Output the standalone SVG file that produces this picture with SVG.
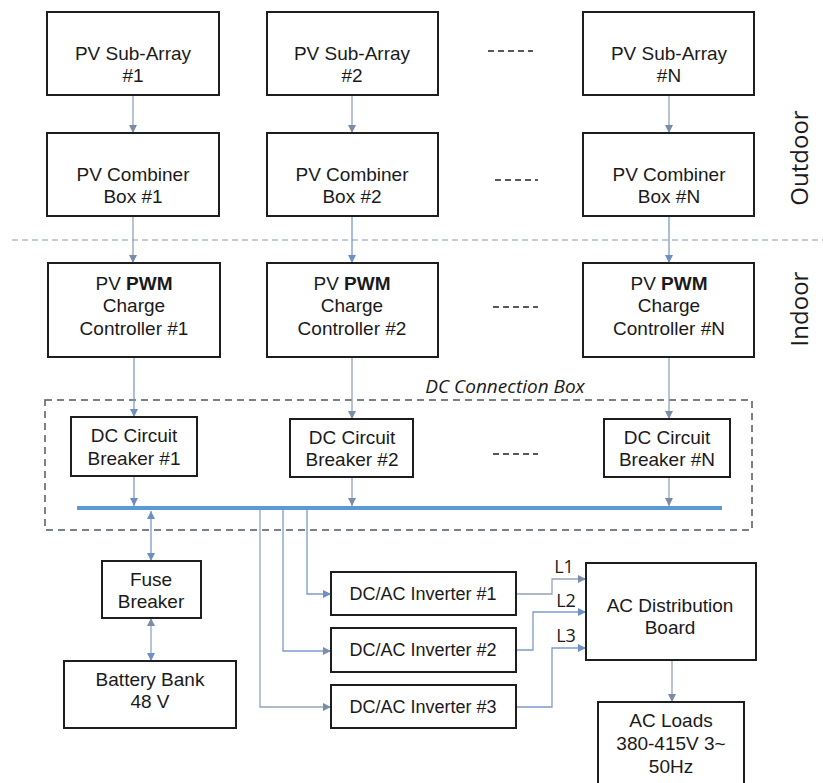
<svg xmlns="http://www.w3.org/2000/svg" width="823" height="783" viewBox="0 0 823 783">
<defs>
<marker id="ah" viewBox="0 0 10 10" refX="10" refY="5" markerWidth="8" markerHeight="8" markerUnits="userSpaceOnUse" orient="auto-start-reverse">
<path d="M0,0 L10,5 L0,10 z" fill="#7b8ca6"/>
</marker>
<marker id="ahb" viewBox="0 0 10 10" refX="10" refY="5" markerWidth="8" markerHeight="8" markerUnits="userSpaceOnUse" orient="auto-start-reverse">
<path d="M0,0 L10,5 L0,10 z" fill="#6d8fc6"/>
</marker>
</defs>
<style>
.box{fill:#ffffff;stroke:#1e1e1e;stroke-width:2}
.t{font-family:"Liberation Sans",Arial,sans-serif;font-size:19px;fill:#1a1a1a;text-anchor:middle}
.ti{font-family:"Liberation Sans",Arial,sans-serif;font-size:18px;fill:#1a1a1a;text-anchor:middle}
.c{fill:none;stroke:#95a3b8;stroke-width:1.3}
.cb{fill:none;stroke:#7e9acb;stroke-width:1.3}
.dots{stroke:#222;stroke-width:1.3;stroke-dasharray:6 4}
.side{font-family:"Open Sans","Noto Sans",sans-serif;font-size:24px;fill:#1a1a1a;text-anchor:middle}
.lab{font-family:"Open Sans","Noto Sans",sans-serif;font-size:18px;fill:#1a1a1a;text-anchor:middle}
</style>
<rect width="823" height="783" fill="#ffffff"/>

<!-- zone separators -->
<line x1="12" y1="240" x2="823" y2="240" stroke="#a9bccf" stroke-width="1.3" stroke-dasharray="6 4"/>
<g id="dc-connection-box">
<rect x="45" y="400" width="707" height="130" fill="none" stroke="#4f5866" stroke-width="1.5" stroke-dasharray="7 5"/>
<text x="505" y="393" font-family="'Open Sans','Noto Sans',sans-serif" font-size="19" font-style="italic" fill="#1a1a1a" text-anchor="middle">DC Connection Box</text>
</g>
<text class="side" transform="translate(808,158) rotate(-90)">Outdoor</text>
<text class="side" transform="translate(808,309) rotate(-90)">Indoor</text>

<!-- ellipses -->
<line class="dots" x1="488" y1="51" x2="533" y2="51"/>
<line class="dots" x1="495" y1="180" x2="538" y2="180"/>
<line class="dots" x1="493" y1="307" x2="538" y2="307"/>
<line class="dots" x1="493" y1="454" x2="538" y2="454"/>

<!-- connectors -->
<g id="connectors">
<line class="c" x1="133" y1="95" x2="133" y2="133" marker-end="url(#ah)"/>
<line class="c" x1="352" y1="95" x2="352" y2="133" marker-end="url(#ah)"/>
<line class="c" x1="669" y1="95" x2="669" y2="133" marker-end="url(#ah)"/>
<line class="c" x1="133" y1="216" x2="133" y2="263" marker-end="url(#ah)"/>
<line class="cb" x1="352" y1="216" x2="352" y2="263" marker-end="url(#ahb)"/>
<line class="cb" x1="669" y1="216" x2="669" y2="263" marker-end="url(#ahb)"/>
<line class="cb" x1="134" y1="357" x2="134" y2="417" marker-end="url(#ahb)"/>
<line class="c" x1="352" y1="357" x2="352" y2="419" marker-end="url(#ah)"/>
<line class="c" x1="669" y1="357" x2="669" y2="419" marker-end="url(#ah)"/>
<line class="cb" x1="134" y1="476" x2="134" y2="506" marker-end="url(#ahb)"/>
<line class="c" x1="352" y1="477" x2="352" y2="506" marker-end="url(#ah)"/>
<line class="c" x1="669" y1="477" x2="669" y2="506" marker-end="url(#ah)"/>
<line class="cb" x1="151" y1="511" x2="151" y2="561" marker-start="url(#ahb)" marker-end="url(#ahb)"/>
<line class="c" x1="151" y1="618" x2="151" y2="661" marker-start="url(#ah)" marker-end="url(#ahb)"/>
<polyline class="cb" points="307,510 307,594 331,594" marker-end="url(#ahb)"/>
<polyline class="cb" points="283,510 283,651 331,651" marker-end="url(#ah)"/>
<polyline class="c" points="260,510 260,707 331,707" marker-end="url(#ah)"/>
<polyline class="c" points="516,594 552,594 552,579 586,579" marker-end="url(#ah)"/>
<polyline class="cb" points="516,650 533,650 533,612 586,612" marker-end="url(#ahb)"/>
<polyline class="cb" points="516,707 552,707 552,648 586,648" marker-end="url(#ahb)"/>
<line class="c" x1="672" y1="660" x2="672" y2="702" marker-end="url(#ah)"/>
<rect x="77" y="506" width="645" height="4" fill="#5b9bd5"/>
</g>
<text class="lab" x="564" y="573">L1</text>
<text class="lab" x="566" y="607">L2</text>
<text class="lab" x="566" y="642">L3</text>

<!-- nodes -->
<g id="pv1"><rect class="box" x="47" y="12" width="172" height="83"/><text class="t" x="133" y="60">PV Sub-Array</text><text class="t" x="133" y="82">#1</text></g>
<g id="pv2"><rect class="box" x="267" y="12" width="171" height="83"/><text class="t" x="352" y="60">PV Sub-Array</text><text class="t" x="352" y="82">#2</text></g>
<g id="pvn"><rect class="box" x="583" y="12" width="171" height="83"/><text class="t" x="669" y="60">PV Sub-Array</text><text class="t" x="669" y="82">#N</text></g>

<g id="cb1"><rect class="box" x="47" y="133" width="172" height="83"/><text class="t" x="133" y="181">PV Combiner</text><text class="t" x="133" y="203">Box #1</text></g>
<g id="cb2"><rect class="box" x="267" y="133" width="171" height="83"/><text class="t" x="352" y="181">PV Combiner</text><text class="t" x="352" y="203">Box #2</text></g>
<g id="cbn"><rect class="box" x="583" y="133" width="171" height="83"/><text class="t" x="669" y="181">PV Combiner</text><text class="t" x="669" y="203">Box #N</text></g>

<g id="cc1"><rect class="box" x="48" y="263" width="172" height="94"/><text class="t" x="134" y="290">PV <tspan font-weight="bold">PWM</tspan></text><text class="t" x="134" y="312">Charge</text><text class="t" x="134" y="335">Controller #1</text></g>
<g id="cc2"><rect class="box" x="267" y="263" width="171" height="94"/><text class="t" x="352" y="290">PV <tspan font-weight="bold">PWM</tspan></text><text class="t" x="352" y="312">Charge</text><text class="t" x="352" y="335">Controller #2</text></g>
<g id="ccn"><rect class="box" x="583" y="263" width="171" height="94"/><text class="t" x="669" y="290">PV <tspan font-weight="bold">PWM</tspan></text><text class="t" x="669" y="312">Charge</text><text class="t" x="669" y="335">Controller #N</text></g>

<g id="br1"><rect class="box" x="71" y="417" width="126" height="59"/><text class="t" x="134" y="442">DC Circuit</text><text class="t" x="134" y="465">Breaker #1</text></g>
<g id="br2"><rect class="box" x="290" y="419" width="123" height="58"/><text class="t" x="352" y="444">DC Circuit</text><text class="t" x="352" y="466">Breaker #2</text></g>
<g id="brn"><rect class="box" x="604" y="419" width="126" height="58"/><text class="t" x="667" y="444">DC Circuit</text><text class="t" x="667" y="466">Breaker #N</text></g>

<g id="fuse"><rect class="box" x="102" y="561" width="99" height="57"/><text class="t" x="151" y="586">Fuse</text><text class="t" x="151" y="608">Breaker</text></g>
<g id="battery"><rect class="box" x="64" y="661" width="172" height="67"/><text class="t" x="150" y="686">Battery Bank</text><text class="t" x="150" y="708">48 V</text></g>

<g id="inv1"><rect class="box" x="331" y="572" width="185" height="43"/><text class="ti" x="423" y="600">DC/AC Inverter #1</text></g>
<g id="inv2"><rect class="box" x="331" y="628" width="185" height="44"/><text class="ti" x="423" y="656">DC/AC Inverter #2</text></g>
<g id="inv3"><rect class="box" x="331" y="685" width="185" height="43"/><text class="ti" x="423" y="713">DC/AC Inverter #3</text></g>

<g id="acdb"><rect class="box" x="586" y="563" width="170" height="97"/><text class="t" x="670" y="612">AC Distribution</text><text class="t" x="670" y="634">Board</text></g>
<g id="acloads"><rect class="box" x="598" y="702" width="146" height="95"/><text class="t" x="671" y="727">AC Loads</text><text class="t" x="671" y="750">380-415V 3~</text><text class="t" x="671" y="773">50Hz</text></g>
</svg>
